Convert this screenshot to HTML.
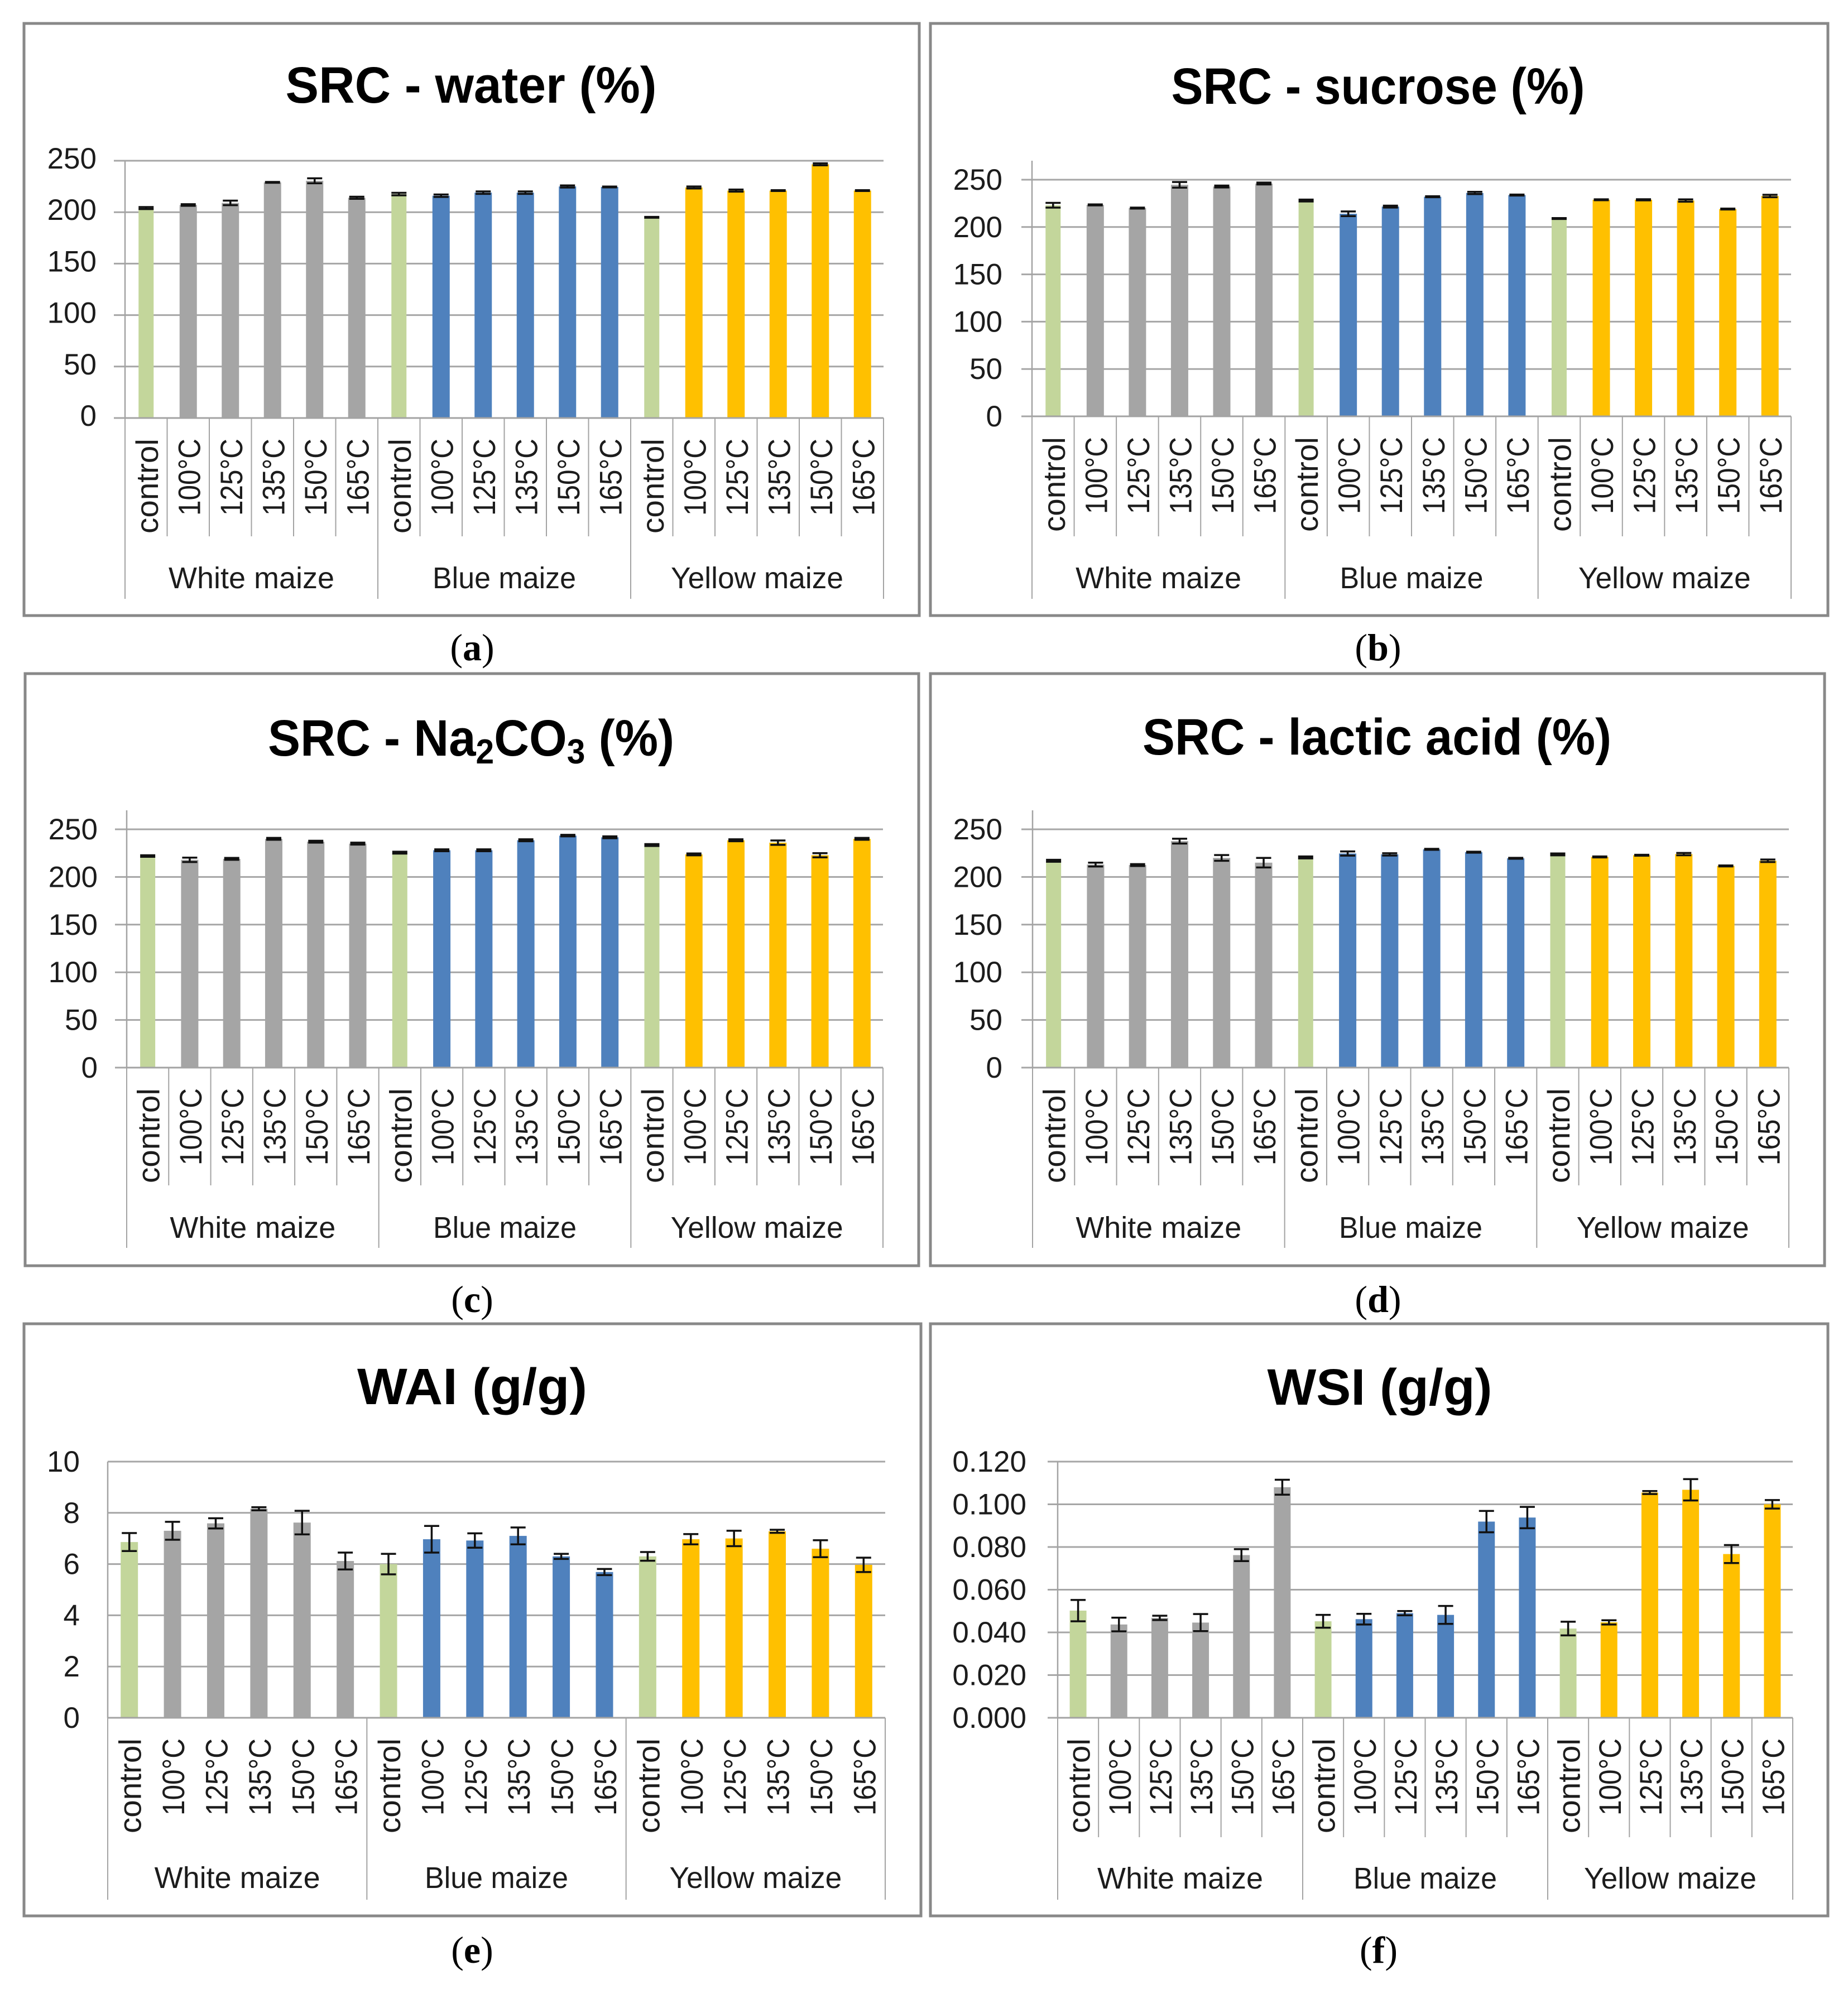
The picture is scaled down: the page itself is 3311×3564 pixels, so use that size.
<!DOCTYPE html>
<html lang="en">
<head>
<meta charset="utf-8">
<title>Maize flour SRC, WAI and WSI charts</title>
<style>
html,body{margin:0;padding:0;background:#fff;}
svg{display:block;}
text{font-family:"Liberation Sans",sans-serif;fill:#1c1c1c;}
.title{font-weight:700;font-size:92px;text-anchor:middle;fill:#000;}
.title tspan{font-size:62px;}
.caption{font-family:"Liberation Serif",serif;font-size:68px;text-anchor:middle;fill:#000;}
.caption tspan{font-weight:700;}
.frame{fill:#fff;stroke:#888;stroke-width:5;}
</style>
</head>
<body>
<svg id="figure" xmlns="http://www.w3.org/2000/svg" width="3311" height="3564" viewBox="0 0 3311 3564">
  <rect width="3311" height="3564" fill="#fff"/>

  <g id="panel-a">
    <rect class="frame" x="43" y="42" width="1604" height="1061"/>
    <text class="title" x="844" y="184" textLength="665" lengthAdjust="spacingAndGlyphs">SRC - water (%)</text>
    <text class="caption" x="846" y="1183">(<tspan>a</tspan>)</text>
  </g>
  <g id="panel-b">
    <rect class="frame" x="1667" y="42" width="1608" height="1061"/>
    <text class="title" x="2469" y="186" textLength="741" lengthAdjust="spacingAndGlyphs">SRC - sucrose (%)</text>
    <text class="caption" x="2469" y="1183">(<tspan>b</tspan>)</text>
  </g>
  <g id="panel-c">
    <rect class="frame" x="45" y="1207" width="1601" height="1061"/>
    <text class="title" x="844" y="1354" textLength="728" lengthAdjust="spacingAndGlyphs">SRC - Na<tspan dy="14">2</tspan><tspan dy="-14" style="font-size:92px">CO</tspan><tspan dy="14">3</tspan><tspan dy="-14" style="font-size:92px"> (%)</tspan></text>
    <text class="caption" x="846" y="2351">(<tspan>c</tspan>)</text>
  </g>
  <g id="panel-d">
    <rect class="frame" x="1667" y="1207" width="1602" height="1061"/>
    <text class="title" x="2467" y="1352" textLength="840" lengthAdjust="spacingAndGlyphs">SRC - lactic acid (%)</text>
    <text class="caption" x="2469" y="2351">(<tspan>d</tspan>)</text>
  </g>
  <g id="panel-e">
    <rect class="frame" x="43" y="2372" width="1607" height="1061"/>
    <text class="title" x="846" y="2516" textLength="412" lengthAdjust="spacingAndGlyphs">WAI (g/g)</text>
    <text class="caption" x="846" y="3517">(<tspan>e</tspan>)</text>
  </g>
  <g id="panel-f">
    <rect class="frame" x="1667" y="2372" width="1608" height="1061"/>
    <text class="title" x="2472" y="2517" textLength="403" lengthAdjust="spacingAndGlyphs">WSI (g/g)</text>
    <text class="caption" x="2470" y="3517">(<tspan>f</tspan>)</text>
  </g>
</svg>

<script>
const categories = ["control","100°C","125°C","135°C","150°C","165°C"];
const groups = ["White maize","Blue maize","Yellow maize"];

const srcTicks = ["0","50","100","150","200","250"];
const waiTicks = ["0","2","4","6","8","10"];
const wsiTicks = ["0.000","0.020","0.040","0.060","0.080","0.100","0.120"];

const waterValues = [204,207,209,229,230.5,214, 217.6,216,219,219,225,224.5, 195,224,221,221,246.5,221];
const waterErrors = [1,0.8,2.2,0.4,2.4,1, 1.2,1.2,1.2,1.2,1,0.4, 0.4,1,1,0.4,1,0.4];

const sucroseValues = [223,223.4,220,244.6,242.8,246, 228,214,221.6,232,236,233.8, 209,228.8,228.8,228,219,232.8];
const sucroseErrors = [2.5,0.5,0.5,3,1,1, 1,2.5,1,0.5,1.2,0.5, 0.5,0.5,0.6,1.2,0.5,1.3];

const carbonateValues = [222,218,219,240,237,235, 225.5,228,228,238.5,243.4,241.6, 233.5,223.7,238.5,236,222.8,240];
const carbonateErrors = [0.8,2.3,1,1,1,1, 1,1,1,1,0.8,1, 1,1,1,2.3,2.2,1];

const lacticValues = [217,213,212.5,237.6,220,215, 220.5,224.6,223.7,229,226,219.6, 223.7,221,222.8,224,211.6,217];
const lacticErrors = [1,2,1,2.5,3,5, 1,2.2,1.2,0.5,0.5,0.5, 1,0.5,0.5,1.2,0.5,1.3];

const waiValues = [6.86,7.3,7.59,8.16,7.62,6.12, 6.0,6.97,6.92,7.1,6.3,5.69, 6.3,6.97,7.0,7.28,6.6,5.97];
const waiErrors = [0.35,0.35,0.2,0.06,0.46,0.33, 0.4,0.52,0.28,0.33,0.1,0.12, 0.17,0.2,0.3,0.06,0.33,0.28];

const wsiValues = [0.0502,0.0437,0.0468,0.0446,0.0762,0.108, 0.0452,0.0462,0.0490,0.0482,0.0919,0.0938, 0.0418,0.0447,0.1055,0.1068,0.0767,0.1];
const wsiErrors = [0.005,0.0032,0.001,0.004,0.0028,0.0035, 0.003,0.0025,0.001,0.0042,0.005,0.005, 0.0032,0.001,0.0007,0.005,0.0042,0.002];

const groupColors = ["#A5A5A5","#4F81BD","#FFC000"];
const controlColor = "#C3D69B";
const gridColor = "#A6A6A6";
const axisColor = "#A3A3A3";

const panels = [
  {id:"a",values:waterValues,errors:waterErrors,ticks:srcTicks,x0:224,x1:1583,axisTop:288,yTop:288,y0:749,gridStart:204,labelRight:173,labelDy:14,catBottom:961,groupBottom:1073,groupBase:1054,ctrlW:27,barW:31},
  {id:"b",values:sucroseValues,errors:sucroseErrors,ticks:srcTicks,x0:1849,x1:3209,axisTop:288,yTop:322,y0:746,gridStart:1830,labelRight:1796,labelDy:18,catBottom:961,groupBottom:1073,groupBase:1054,ctrlW:27,barW:31},
  {id:"c",values:carbonateValues,errors:carbonateErrors,ticks:srcTicks,x0:227,x1:1582,axisTop:1452,yTop:1486,y0:1913,gridStart:206,labelRight:175,labelDy:18,catBottom:2124,groupBottom:2236,groupBase:2218,ctrlW:27,barW:31},
  {id:"d",values:lacticValues,errors:lacticErrors,ticks:srcTicks,x0:1850,x1:3205,axisTop:1452,yTop:1486,y0:1913,gridStart:1830,labelRight:1796,labelDy:18,catBottom:2124,groupBottom:2236,groupBase:2218,ctrlW:27,barW:31},
  {id:"e",values:waiValues,errors:waiErrors,ticks:waiTicks,x0:193,x1:1586,axisTop:2619,yTop:2619,y0:3078,gridStart:193,labelRight:143,labelDy:18,catBottom:null,groupBottom:3404,groupBase:3383,ctrlW:31,barW:31},
  {id:"f",values:wsiValues,errors:wsiErrors,ticks:wsiTicks,x0:1895,x1:3212,axisTop:2619,yTop:2619,y0:3078,gridStart:1877,labelRight:1839,labelDy:18,catBottom:3292,groupBottom:3404,groupBase:3384,ctrlW:30,barW:30}
];

const groupLabelWidths = [297,257,309];
const catLabelOffset = 37;
const catBaselineOffset = 21;
const svgNS = "http://www.w3.org/2000/svg";

function make(tag, parent, props) {
  const el = document.createElementNS(svgNS, tag);
  Object.keys(props).forEach(function (k) { el.setAttribute(k, props[k]); });
  parent.appendChild(el);
  return el;
}

panels.forEach(function (p) {
  const host = document.getElementById("panel-" + p.id);
  const maxTick = parseFloat(p.ticks[p.ticks.length - 1]);
  const yScale = function (v) { return p.y0 - (v / maxTick) * (p.y0 - p.yTop); };
  const slots = p.values.length;
  const slotW = (p.x1 - p.x0) / slots;
  const xBand = function (i) { return p.x0 + i * slotW; };
  const perGroup = categories.length;

  p.ticks.forEach(function (t) {
    const y = yScale(parseFloat(t));
    const grid = make("line", host, {x1:p.gridStart, x2:p.x1, y1:y, y2:y, stroke:gridColor, "stroke-width":3});
    
    
    const label = make("text", host, {x:p.labelRight, y:y + p.labelDy, "text-anchor":"end", "font-size":53});
    
    
    label.textContent = t;
  });

  const yAxis = make("line", host, {x1:p.x0, x2:p.x0, y1:p.axisTop, y2:p.y0, stroke:axisColor, "stroke-width":2.5});
  
  

  p.values.forEach(function (v, i) {
    const isControl = i % perGroup === 0;
    const w = isControl ? p.ctrlW : p.barW;
    const cx = xBand(i) + slotW / 2;
    const top = yScale(v);
    const color = isControl ? controlColor : groupColors[Math.floor(i / perGroup)];
    const bar = make("rect", host, {x:cx - w / 2, y:top, width:w, height:p.y0 - top, fill:color});
    
    

    const hi = yScale(v + p.errors[i]);
    const lo = yScale(v - p.errors[i]);
    const capW = 27;
    const errD = "M" + (cx - capW / 2) + " " + hi + "H" + (cx + capW / 2) +
      "M" + cx + " " + hi + "V" + lo +
      "M" + (cx - capW / 2) + " " + lo + "H" + (cx + capW / 2);
    const err = make("path", host, {d:errD, stroke:"#111", "stroke-width":3.5, fill:"none"});
    
    

    const name = categories[i % perGroup];
    const catX = cx + catBaselineOffset;
    const catY = p.y0 + catLabelOffset;
    const cat = make("text", host, {
      x:catX, y:catY, "text-anchor":"end", "font-size":56,
      transform:"rotate(-90 " + catX + " " + catY + ")",
      textLength:isControl ? 170 : 138, lengthAdjust:"spacingAndGlyphs"
    });
    
    
    cat.textContent = name;
  });

  const xAxis = make("line", host, {x1:p.x0, x2:p.x1, y1:p.y0, y2:p.y0, stroke:axisColor, "stroke-width":3});
  
  

  if (p.catBottom !== null) {
    for (let i = 1; i < slots; i++) {
      if (i % perGroup === 0) continue;
      const tick = make("line", host, {x1:xBand(i), x2:xBand(i), y1:p.y0, y2:p.catBottom, stroke:axisColor, "stroke-width":2});
      
      
    }
  }

  for (let g = 0; g <= groups.length; g++) {
    const gx = xBand(g * perGroup);
    const div = make("line", host, {x1:gx, x2:gx, y1:p.y0, y2:p.groupBottom, stroke:axisColor, "stroke-width":2});
    
    
  }

  groups.forEach(function (g, gi) {
    const gx = xBand((gi + 0.5) * perGroup);
    const label = make("text", host, {
      x:gx, y:p.groupBase, "text-anchor":"middle", "font-size":54,
      textLength:groupLabelWidths[gi], lengthAdjust:"spacingAndGlyphs"
    });
    
    
    label.textContent = g;
  });
});
</script>
</body>
</html>
